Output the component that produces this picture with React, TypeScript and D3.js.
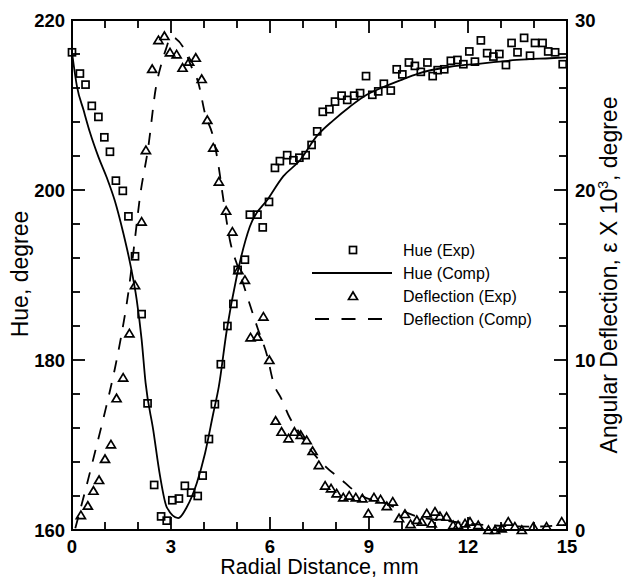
import React, { useEffect, useRef } from 'react';
import * as d3 from 'd3';

// axis tick labels
const xTickLabels = [0, 3, 6, 9, 12, 15];
const hueTickLabels = [160, 180, 200, 220];
const defTickLabels = [0, 10, 20, 30];

// [radial distance mm, hue degree]
const hueExp: [number, number][] = [
  [0, 216.2], [0.24, 213.7], [0.41, 212.4], [0.6, 209.9], [0.8, 208.6], [0.98, 206.2],
  [1.15, 204.5], [1.33, 201.1], [1.54, 199.9], [1.71, 196.9], [1.91, 192.2], [2.11, 185.4],
  [2.29, 174.9], [2.49, 165.3], [2.7, 161.6], [2.87, 161.1], [3.04, 163.5], [3.24, 163.7],
  [3.42, 165.2], [3.61, 164.4], [3.81, 164.0], [3.96, 166.4], [4.15, 170.7], [4.33, 174.8],
  [4.51, 179.5], [4.71, 184.0], [4.89, 186.6], [5.02, 190.6], [5.24, 191.8], [5.39, 197.1],
  [5.62, 197.1], [5.78, 195.6], [5.97, 198.6], [6.15, 202.6], [6.3, 203.4], [6.52, 204.1],
  [6.71, 203.5], [6.89, 203.8], [7.08, 204.1], [7.26, 205.3], [7.43, 206.9], [7.6, 209.2],
  [7.8, 209.5], [7.97, 210.4], [8.17, 211.1], [8.34, 210.6], [8.55, 211.1], [8.73, 211.4],
  [8.91, 213.4], [9.1, 211.2], [9.28, 211.6], [9.45, 212.5], [9.66, 211.7], [9.84, 214.2],
  [10.01, 213.6], [10.21, 215.0], [10.39, 214.6], [10.57, 213.9], [10.77, 215.0], [10.93, 213.4],
  [11.08, 214.1], [11.28, 214.2], [11.48, 215.2], [11.68, 215.3], [11.86, 214.8], [12.04, 216.3],
  [12.21, 215.1], [12.39, 217.6], [12.58, 216.1], [12.77, 215.7], [12.95, 216.0], [13.15, 214.7],
  [13.32, 217.3], [13.5, 216.2], [13.7, 217.9], [13.88, 215.8], [14.03, 217.3], [14.26, 217.3],
  [14.43, 216.3], [14.64, 216.2], [14.87, 214.8],
];

const hueComp: [number, number][] = [
  [0, 216.2], [0.15, 212.2], [0.35, 209.4], [0.55, 206.7], [0.8, 203.9], [1.05, 201.5],
  [1.3, 198.7], [1.55, 195.0], [1.76, 191.4], [1.96, 187.1], [2.11, 182.4], [2.23, 177.3],
  [2.46, 171.8], [2.67, 166.3], [2.87, 162.7], [3.22, 161.4], [3.48, 162.7], [3.78, 165.5],
  [4.03, 169.0], [4.28, 173.7], [4.45, 176.9], [4.69, 183.5], [4.99, 189.8], [5.39, 195.7],
  [5.95, 199.0], [6.4, 201.6], [6.91, 203.5], [7.41, 206.3], [7.92, 208.2],
  [8.42, 209.8], [8.93, 211.2], [9.43, 212.1], [9.94, 212.9], [10.49, 213.7], [11.45, 214.5],
  [12.45, 214.9], [13.48, 215.3], [14.48, 215.5], [15, 215.6],
];

// [radial distance mm, deflection x 10^3 degree]
const defExp: [number, number][] = [
  [0.27, 0.88], [0.48, 1.43], [0.65, 2.31], [0.82, 2.94], [1.0, 4.18], [1.18, 5.04],
  [1.35, 7.75], [1.55, 8.96], [1.74, 11.57], [1.91, 14.41], [2.11, 18.14], [2.24, 22.35],
  [2.43, 27.12], [2.62, 28.82], [2.8, 29.06], [2.97, 28.1], [3.17, 27.98], [3.35, 27.19],
  [3.55, 27.55], [3.75, 27.78], [3.93, 26.53], [4.1, 24.12], [4.28, 22.49], [4.45, 20.49],
  [4.67, 18.78], [4.86, 17.55], [5.04, 15.29], [5.24, 14.71], [5.41, 11.33], [5.62, 11.37],
  [5.8, 12.55], [5.98, 10.0], [6.17, 6.43], [6.35, 5.78], [6.56, 5.39], [6.74, 5.78],
  [6.93, 5.59], [7.11, 5.29], [7.29, 4.65], [7.48, 3.82], [7.67, 2.61], [7.85, 2.45],
  [8.02, 2.16], [8.22, 1.92], [8.4, 2.02], [8.6, 1.92], [8.8, 1.86], [8.98, 0.98],
  [9.15, 1.92], [9.35, 1.8], [9.54, 1.41], [9.72, 1.67], [9.91, 0.69], [10.09, 0.94],
  [10.26, 0.35], [10.45, 0.59], [10.6, 0.49], [10.75, 0.98], [10.9, 0.39], [11.0, 1.08],
  [11.15, 0.82], [11.35, 0.78], [11.55, 0.29], [11.7, 0.29], [11.91, 0.39], [12.06, 0.49],
  [12.31, 0.29], [12.62, 0.0], [12.82, 0.0], [13.02, 0.1], [13.22, 0.49], [13.42, 0.2],
  [13.63, 0.0], [13.98, 0.2], [14.38, 0.2], [14.84, 0.49],
];

const defComp: [number, number][] = [
  [0.1, 0.1], [0.4, 2.3], [0.7, 4.6], [1.03, 7.2], [1.3, 9.5], [1.5, 11.5], [1.71, 14.0],
  [1.9, 17.0], [2.06, 19.6], [2.31, 22.5], [2.54, 26.0], [2.72, 27.5], [2.85, 28.3],
  [3.0, 29.0], [3.15, 28.9], [3.37, 28.4], [3.63, 27.2], [3.83, 26.3], [4.03, 24.5],
  [4.28, 23.1], [4.45, 21.3], [4.56, 19.8], [4.79, 17.0], [5.04, 15.4], [5.3, 13.8],
  [5.62, 11.9], [5.92, 10.2], [6.1, 8.7], [6.35, 7.7], [6.6, 6.6], [6.8, 6.0], [7.2, 4.8],
  [7.7, 3.7], [8.2, 2.9], [8.4, 2.55], [8.9, 1.9], [9.4, 1.65], [10.1, 1.05], [10.45, 0.8],
  [11.5, 0.5], [12.5, 0.3], [14.0, 0.2], [14.9, 0.3],
];

const legendItems = ['Hue (Exp)', 'Hue (Comp)', 'Deflection (Exp)', 'Deflection (Comp)'];

const FONT = '"Liberation Sans", Arial, sans-serif';

export default function App() {
  const ref = useRef<SVGSVGElement>(null);

  useEffect(() => {
    const svg = d3.select(ref.current);
    svg.selectAll('*').remove();

    const left = 72, right = 567, top = 20, bottom = 530;

    const x = d3.scaleLinear().domain([0, 15]).range([left, right]);
    const yHue = d3.scaleLinear().domain([160, 220]).range([bottom, top]);
    const yDef = d3.scaleLinear().domain([0, 30]).range([bottom, top]);

    svg.append('defs').append('clipPath').attr('id', 'plotclip')
      .append('rect').attr('x', left).attr('y', top)
      .attr('width', right - left).attr('height', bottom - top);

    const ink = '#000';

    // ticks, all pointing inward
    const ticks = svg.append('g').attr('stroke', ink).attr('stroke-width', 1.8);
    d3.range(0, 16).forEach((d) => {
      const len = d % 3 === 0 ? 13 : 8;
      ticks.append('line').attr('x1', x(d)).attr('x2', x(d)).attr('y1', bottom).attr('y2', bottom - len);
      ticks.append('line').attr('x1', x(d)).attr('x2', x(d)).attr('y1', top).attr('y2', top + len);
    });
    d3.range(160, 221, 4).forEach((v) => {
      const len = (v - 160) % 20 === 0 ? 13 : 8;
      ticks.append('line').attr('x1', left).attr('x2', left + len).attr('y1', yHue(v)).attr('y2', yHue(v));
    });
    d3.range(0, 31, 2).forEach((v) => {
      const len = v % 10 === 0 ? 13 : 8;
      ticks.append('line').attr('x1', right).attr('x2', right - len).attr('y1', yDef(v)).attr('y2', yDef(v));
    });

    // frame
    svg.append('rect')
      .attr('x', left).attr('y', top).attr('width', right - left).attr('height', bottom - top)
      .attr('fill', 'none').attr('stroke', ink).attr('stroke-width', 2);

    // tick labels
    const lab = svg.append('g').attr('font-family', FONT).attr('font-size', 18.5)
      .attr('font-weight', 'bold').attr('fill', ink);
    xTickLabels.forEach((d) => {
      lab.append('text').attr('x', x(d)).attr('y', 553).attr('text-anchor', 'middle').text(d);
    });
    hueTickLabels.forEach((v) => {
      lab.append('text').attr('x', 65).attr('y', yHue(v) + 7).attr('text-anchor', 'end').text(v);
    });
    defTickLabels.forEach((v) => {
      lab.append('text').attr('x', 575).attr('y', yDef(v) + 7).attr('text-anchor', 'start').text(v);
    });

    // axis titles
    svg.append('text')
      .attr('x', (left + right) / 2).attr('y', 574).attr('text-anchor', 'middle')
      .attr('font-family', FONT).attr('font-size', 21.5).text('Radial Distance, mm');
    svg.append('text')
      .attr('transform', 'translate(28,274) rotate(-90)').attr('text-anchor', 'middle')
      .attr('font-family', FONT).attr('font-size', 23).text('Hue, degree');
    const rt = svg.append('text')
      .attr('transform', 'translate(617,275) rotate(-90)').attr('text-anchor', 'middle')
      .attr('font-family', FONT).attr('font-size', 23);
    rt.append('tspan').text('Angular Deflection, \u03b5 X 10');
    rt.append('tspan').attr('font-size', 14).attr('dy', -9).text('3');
    rt.append('tspan').attr('dy', 9).text(', degree');

    const plot = svg.append('g').attr('clip-path', 'url(#plotclip)');

    const hueLine = d3.line<[number, number]>()
      .x((d) => x(d[0])).y((d) => yHue(d[1])).curve(d3.curveMonotoneX);
    const defLine = d3.line<[number, number]>()
      .x((d) => x(d[0])).y((d) => yDef(d[1])).curve(d3.curveMonotoneX);

    plot.append('path').datum(hueComp).attr('d', hueLine)
      .attr('fill', 'none').attr('stroke', ink).attr('stroke-width', 1.8);
    plot.append('path').datum(defComp).attr('d', defLine)
      .attr('fill', 'none').attr('stroke', ink).attr('stroke-width', 1.8)
      .attr('stroke-dasharray', '12,11');

    const sq = 7;
    const square = (g: any, cx: number, cy: number) =>
      g.append('rect').attr('x', cx - sq / 2).attr('y', cy - sq / 2)
        .attr('width', sq).attr('height', sq)
        .attr('fill', 'none').attr('stroke', ink).attr('stroke-width', 1.7);
    const tri = (g: any, cx: number, cy: number) =>
      g.append('path')
        .attr('d', `M${cx - 4.5},${cy + 3.5}L${cx},${cy - 4}L${cx + 4.5},${cy + 3.5}Z`)
        .attr('fill', 'none').attr('stroke', ink).attr('stroke-width', 1.7);

    hueExp.forEach((d) => square(svg, x(d[0]), yHue(d[1])));
    defExp.forEach((d) => tri(svg, x(d[0]), yDef(d[1])));

    // legend
    const legY = [250, 273, 296, 319];
    const leg = svg.append('g');
    square(leg, 353, legY[0]);
    leg.append('line').attr('x1', 312).attr('x2', 392).attr('y1', legY[1]).attr('y2', legY[1])
      .attr('stroke', ink).attr('stroke-width', 1.8);
    tri(leg, 353, legY[2]);
    leg.append('line').attr('x1', 315).attr('x2', 382).attr('y1', legY[3]).attr('y2', legY[3])
      .attr('stroke', ink).attr('stroke-width', 1.8).attr('stroke-dasharray', '14,12.5');
    legendItems.forEach((t, i) => {
      leg.append('text').attr('x', 403).attr('y', legY[i] + 6)
        .attr('font-family', FONT).attr('font-size', 16).attr('fill', ink).text(t);
    });
  }, []);

  return (
    <svg
      ref={ref}
      width={628}
      height={579}
      style={{ position: 'absolute', left: 0, top: 0, background: '#fff' }}
    />
  );
}
